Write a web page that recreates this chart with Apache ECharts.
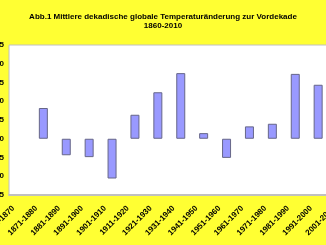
<!DOCTYPE html>
<html>
<head>
<meta charset="utf-8">
<script src="https://cdn.jsdelivr.net/npm/echarts@6/dist/echarts.min.js"></script>
<style>
html,body{margin:0;padding:0;background:#ffff33;}
#chart{width:326px;height:245px;}
</style>
</head>
<body>
<div id="chart"></div>
<script>
var categories = ["1861-1870","1871-1880","1881-1890","1891-1900","1901-1910","1911-1920","1921-1930","1931-1940","1941-1950","1951-1960","1961-1970","1971-1980","1981-1990","1991-2000","2001-2010"];
var values = [null, 0.082, -0.044, -0.049, -0.106, 0.064, 0.124, 0.175, 0.015, -0.051, 0.033, 0.040, 0.173, 0.144, 0.19];
var titleText = "Abb.1 Mittlere dekadische globale Temperaturänderung zur Vordekade\n1860-2010";
var yMin = -0.15, yMax = 0.25, yStep = 0.05;

var chart = echarts.init(document.getElementById('chart'), null, {renderer:'canvas'});
chart.setOption({
  backgroundColor: '#ffff33',
  animation: false,
  title: {
    text: titleText,
    left: 'center',
    top: 7,
    textStyle: {fontFamily: 'Liberation Sans, Arial', fontSize: 8, fontWeight: 'bold', color: '#000', lineHeight: 9}
  },
  grid: {
    left: 9, top: 45, width: 343.5, height: 150,
    containLabel: false,
    outerBoundsMode: 'none',
    show: true, backgroundColor: '#ffffff', borderColor: '#c0c0c0', borderWidth: 1
  },
  xAxis: {
    type: 'category',
    data: categories,
    axisLine: {show: true, onZero: false, lineStyle: {color: '#c0c0c0', width: 2}},
    axisTick: {show: false},
    axisLabel: {
      interval: 0, rotate: 45, margin: 5,
      padding: [0, 10, 0, 0],
      hideOverlap: false,
      fontFamily: 'Liberation Sans, Arial', fontSize: 8, fontWeight: 'bold', color: '#000'
    }
  },
  yAxis: {
    type: 'value',
    min: yMin, max: yMax, interval: yStep,
    axisLine: {show: false},
    axisTick: {show: false},
    splitLine: {show: false},
    axisLabel: {
      margin: 5,
      fontFamily: 'Liberation Sans, Arial', fontSize: 8, fontWeight: 'bold', color: '#000',
      formatter: function(v){ return v.toFixed(2).replace('.', ','); }
    }
  },
  series: [{
    type: 'bar',
    data: values,
    barWidth: 9,
    itemStyle: {color: '#9999ff', borderColor: '#666688', borderWidth: 1}
  }]
});
</script>
</body>
</html>
